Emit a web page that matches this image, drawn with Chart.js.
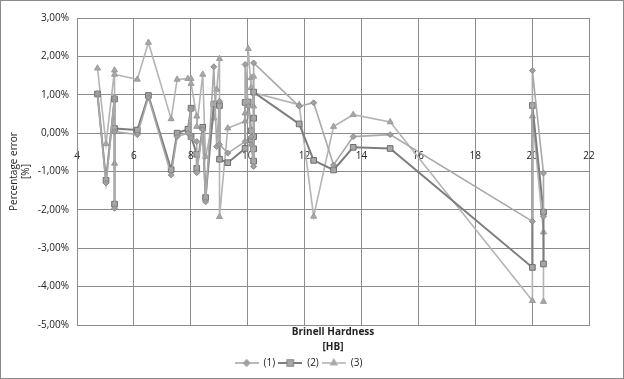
<!DOCTYPE html>
<html>
<head>
<meta charset="utf-8">
<script src="https://cdn.jsdelivr.net/npm/chart.js@4"></script>
<style>
  body { margin: 0; background: #fff; }
  #wrap { width: 622px; height: 377px; border: 1px solid #8a8a8a; position: relative; }
</style>
</head>
<body>
<div id="wrap"><canvas id="hbChart" width="622" height="377"></canvas></div>
<script>
// Brinell hardness [HB] and percentage error [%] for each series
const hb1 = [4.72, 5.02, 5.32, 5.32, 5.32, 6.12, 6.51, 7.31, 7.52, 7.90, 8.01, 8.01, 8.21, 8.21, 8.42, 8.52, 8.81, 8.91, 9.01, 9.01, 9.30, 9.91, 9.91, 10.02, 10.12, 10.12, 10.21, 10.21, 11.81, 12.32, 13.02, 13.71, 15.01, 20.01, 20.01, 20.40, 20.40];
const err1 = [1.03, -1.30, 0.92, -1.96, 0.04, -0.04, 0.93, -1.09, -0.09, 0.00, 0.62, -0.13, -0.22, -1.03, 0.10, -1.79, 1.73, -0.35, 0.83, -0.30, -0.52, -0.22, 1.79, 0.70, -0.10, -0.30, -0.87, 1.83, 0.70, 0.79, -0.83, -0.09, -0.04, -2.30, 1.63, -1.04, -2.17];

const hb2 = [4.72, 5.02, 5.32, 5.32, 5.32, 6.12, 6.51, 7.31, 7.52, 7.90, 8.01, 8.01, 8.21, 8.21, 8.42, 8.52, 8.81, 9.01, 9.01, 9.30, 9.91, 9.91, 10.02, 10.12, 10.12, 10.21, 10.21, 10.21, 10.21, 10.21, 11.81, 12.32, 13.02, 13.71, 15.01, 20.01, 20.01, 20.40, 20.40];
const err2 = [1.02, -1.23, 0.89, -1.85, 0.12, 0.08, 0.98, -0.95, 0.00, 0.10, 0.65, -0.09, -0.55, -0.92, 0.15, -1.68, 0.76, 0.72, -0.68, -0.77, -0.40, 0.80, 0.81, 0.06, -0.17, -0.09, -0.73, 0.39, -0.41, 1.07, 0.24, -0.71, -0.96, -0.37, -0.40, -3.50, 0.72, -2.06, -3.41];

const hb3 = [4.72, 5.02, 5.32, 5.32, 5.32, 6.12, 6.51, 7.31, 7.52, 7.90, 8.01, 8.01, 8.21, 8.21, 8.42, 8.52, 8.81, 8.91, 9.01, 9.01, 9.30, 9.91, 9.91, 10.02, 10.12, 10.12, 10.21, 10.21, 10.21, 11.81, 12.32, 13.02, 13.71, 15.01, 20.01, 20.01, 20.40, 20.40];
const err3 = [1.69, -0.28, 1.64, -0.79, 1.53, 1.40, 2.36, 0.37, 1.40, 1.42, 1.42, 1.29, 0.44, 0.17, 1.53, -0.61, 0.39, 1.14, 1.94, -2.18, 0.13, 0.31, 0.52, 2.20, 1.18, 1.44, 0.70, 1.48, 1.05, 0.74, -2.17, 0.17, 0.48, 0.29, -4.37, 0.44, -2.58, -4.39];

const seriesNames = ['(1)', '(2)', '(3)'];
const xTicks = [4, 6, 8, 10, 12, 14, 16, 18, 20, 22];

const pts = (xs, ys) => xs.map((x, i) => ({ x: x, y: ys[i] }));
const pct = v => v.toFixed(2).replace('.', ',') + '%';
const font = { family: 'Open Sans', size: 10 };

// legend glyph: short line with the marker in the middle, like Excel
function legendGlyph(ds) {
    const c = document.createElement('canvas');
    c.width = 24; c.height = 10;
    const ctx = c.getContext('2d');
    ctx.strokeStyle = ds.borderColor;
    ctx.lineWidth = ds.borderWidth;
    ctx.beginPath(); ctx.moveTo(0, 5); ctx.lineTo(24, 5); ctx.stroke();
    Chart.helpers.drawPoint(ctx, {
        pointStyle: ds.pointStyle, radius: ds.pointRadius,
        borderWidth: ds.pointBorderWidth, rotation: 0
    }, 12, 5);
    ctx.fillStyle = ds.pointBackgroundColor;
    ctx.strokeStyle = ds.pointBorderColor;
    ctx.lineWidth = ds.pointBorderWidth;
    ctx.beginPath();
    Chart.helpers.drawPoint(ctx, { pointStyle: ds.pointStyle, radius: ds.pointRadius, rotation: 0 }, 12, 5);
    return c;
}

const config = {
    type: 'scatter',
    data: {
        datasets: [{
            label: seriesNames[0],
            data: pts(hb1, err1),
            showLine: true,
            borderColor: '#a9a9a9',
            borderWidth: 1.6,
            pointStyle: 'rectRot',
            pointRadius: 3,
            pointBackgroundColor: '#a0a0a0',
            pointBorderColor: '#8c8c8c',
            pointBorderWidth: 1
        }, {
            label: seriesNames[1],
            data: pts(hb2, err2),
            showLine: true,
            borderColor: '#7d7d7d',
            borderWidth: 2,
            pointStyle: 'rect',
            pointRadius: 4,
            pointBackgroundColor: '#a8a8a8',
            pointBorderColor: '#6e6e6e',
            pointBorderWidth: 1
        }, {
            label: seriesNames[2],
            data: pts(hb3, err3),
            showLine: true,
            borderColor: '#b4b4b4',
            borderWidth: 1.6,
            pointStyle: 'triangle',
            pointRadius: 3.5,
            pointBackgroundColor: '#a8a8a8',
            pointBorderColor: '#9a9a9a',
            pointBorderWidth: 1
        }]
    },
    options: {
        responsive: false,
        animation: false,
        layout: { padding: { top: 17, right: 34, left: 7, bottom: 0 } },
        scales: {
            x: {
                type: 'linear',
                min: 4, max: 22,
                afterBuildTicks: s => { s.ticks = xTicks.map(v => ({ value: v })); },
                ticks: { display: false },
                grid: { color: '#8c8c8c', lineWidth: 1, drawTicks: false },
                border: { color: '#8c8c8c' },
                title: {
                    display: true,
                    text: ['Brinell Hardness', '[HB]'],
                    color: '#222',
                    font: { family: 'Open Sans', size: 10, weight: 'bold', lineHeight: 1.5 },
                    padding: { top: 0, bottom: 0 }
                }
            },
            xAxis0: {
                type: 'linear',
                position: { y: 0 },
                min: 4, max: 22,
                afterBuildTicks: s => { s.ticks = xTicks.map(v => ({ value: v })); },
                ticks: { color: '#222', font: font, padding: 9, maxRotation: 0 },
                grid: { display: false },
                border: { color: '#8c8c8c' }
            },
            y: {
                min: -5, max: 3,
                ticks: { stepSize: 1, color: '#222', font: font, padding: 8, callback: v => pct(v) },
                grid: { color: '#8c8c8c', lineWidth: 1, drawTicks: false },
                border: { color: '#8c8c8c' },
                title: {
                    display: true,
                    text: ['Percentage error', '[%]'],
                    color: '#222',
                    font: font,
                    padding: { top: 0, bottom: 2 }
                },
                afterFit: s => { s.width = 69; }
            }
        },
        plugins: {
            legend: {
                position: 'bottom',
                labels: {
                    usePointStyle: true,
                    pointStyleWidth: 24,
                    boxHeight: 10,
                    padding: 3,
                    color: '#222',
                    font: font,
                    generateLabels: chart => chart.data.datasets.map((ds, i) => ({
                        text: ds.label,
                        pointStyle: legendGlyph(ds),
                        fontColor: '#222',
                        lineWidth: 0,
                        datasetIndex: i,
                        hidden: false
                    }))
                }
            },
            tooltip: { enabled: false }
        }
    }
};

new Chart(document.getElementById('hbChart'), config);
</script>
</body>
</html>
